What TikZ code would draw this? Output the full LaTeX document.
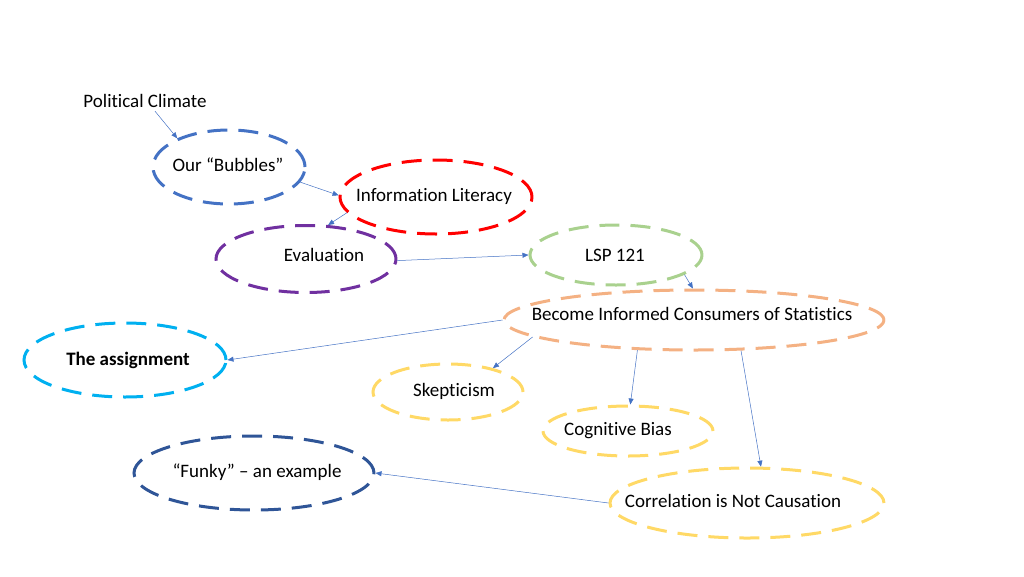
\documentclass[tikz,border=0pt]{standalone}
\usepackage{fontspec}
\setmainfont{Carlito}[Ligatures=NoCommon]
\usetikzlibrary{shapes.geometric,arrows.meta}
\definecolor{cBlue}{HTML}{4472C4}
\definecolor{cRed}{HTML}{FF0000}
\definecolor{cPurple}{HTML}{7030A0}
\definecolor{cGreen}{HTML}{A9D18E}
\definecolor{cOrange}{HTML}{F4B183}
\definecolor{cCyan}{HTML}{00B0F0}
\definecolor{cYellow}{HTML}{FFD966}
\definecolor{cNavy}{HTML}{2F5597}
\definecolor{cArrow}{HTML}{4472C4}
\tikzset{
  bubble/.style={ellipse, draw=#1, line width=3pt, dash pattern=on 20pt off 11pt, inner sep=0pt},
  txt/.style={font=\fontsize{19}{22}\selectfont, text=black},
  conn/.style={draw=cArrow, line width=0.5pt, -{Triangle[length=6pt,width=5pt]}}
}
\begin{document}
\begin{tikzpicture}[x=1pt,y=-1pt]
\useasboundingbox (0,0) rectangle (1024,576);
\node[txt] (pc) at (145,101) {Political Climate};
\node[bubble=cBlue, minimum width=152pt, minimum height=74pt, label={[txt,xshift=-1pt,yshift=2pt]center:Our “Bubbles”}] (bub) at (229,167) {};
\node[bubble=cRed, minimum width=192pt, minimum height=74pt, label={[txt,xshift=-2pt,yshift=1pt]center:Information Literacy}] (info) at (436,197) {};
\node[bubble=cPurple, minimum width=180pt, minimum height=67pt, label={[txt,xshift=18pt,yshift=4pt]center:Evaluation}] (eval) at (306,259) {};
\node[bubble=cGreen, minimum width=172pt, minimum height=60pt, label={[txt,xshift=-1pt]center:LSP 121}] (lsp) at (616,255) {};
\node[bubble=cOrange, minimum width=380pt, minimum height=60pt, label={[txt,xshift=-2pt,yshift=6pt]center:Become Informed Consumers of Statistics}] (become) at (694,320) {};
\node[bubble=cCyan, minimum width=202pt, minimum height=74pt, label={[txt,font=\fontsize{19}{22}\selectfont\bfseries,xshift=3pt]center:The assignment}] (assign) at (125,360) {};
\node[bubble=cYellow, minimum width=150pt, minimum height=56pt, label={[txt,xshift=6pt,yshift=1pt]center:Skepticism}] (skep) at (448,392) {};
\node[bubble=cYellow, minimum width=170pt, minimum height=50pt, label={[txt,xshift=-10pt]center:Cognitive Bias}] (cog) at (628,431) {};
\node[bubble=cNavy, minimum width=240pt, minimum height=74pt, label={[txt,xshift=3pt,yshift=1pt]center:“Funky” – an example}] (funky) at (254,473) {};
\node[bubble=cYellow, minimum width=274pt, minimum height=70pt, label={[txt,xshift=-14pt,yshift=2pt]center:Correlation is Not Causation}] (corr) at (747,503) {};
\draw[conn] ([xshift=10pt]pc.south) -- (bub.151);
\draw[conn] (bub.-12) -- (info.179);
\draw[conn] (info.-170) -- (eval.57);
\draw[conn] (eval.-1) -- (lsp.180);
\draw[conn] (lsp.-16) -- (become.92);
\draw[conn] (become.180) -- (assign.0);
\draw[conn] (become.-174) -- (skep.28);
\draw[conn] (become.-152) -- (cog.85);
\draw[conn] (become.-33) -- (corr.69);
\draw[conn] (corr.180) -- (funky.0);
\end{tikzpicture}
\end{document}
